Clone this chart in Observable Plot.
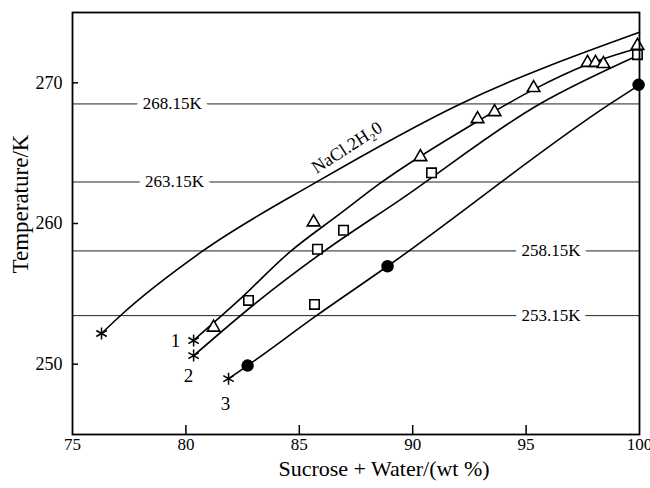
<!DOCTYPE html>
<html>
<head>
<meta charset="utf-8">
<script src="https://cdn.jsdelivr.net/npm/d3@7"></script>
<script src="https://cdn.jsdelivr.net/npm/@observablehq/plot@0.6"></script>
<style>
  html, body { margin: 0; padding: 0; background: white; }
</style>
</head>
<body>
<div id="chart"></div>
<script>
// ---- data ----
const xTicks = [75, 80, 85, 90, 95, 100];
const xInnerTicks = [80, 85, 90, 95];
const yTicks = [250, 260, 270];

const refValues = [268.5, 262.95, 258.05, 253.45];
const refLabels = ["268.15K", "263.15K", "258.15K", "253.15K"];
const refLabelX = [79.4, 79.5, 96.1, 96.1];

const naclX = [76.28, 77.12, 80.73, 85.75, 92.1, 100];
const naclY = [252.18, 253.46, 258.03, 262.94, 268.5, 273.6];
const line1X = [80.34, 82.3, 84.6, 86.8, 88.6, 92.9, 95.3, 97.7, 100];
const line1Y = [251.7, 254.5, 258.0, 260.7, 262.9, 267.3, 269.5, 271.3, 272.5];
const line2X = [80.34, 83.2, 86.07, 89.46, 95.6, 100];
const line2Y = [250.6, 254.5, 258.0, 261.7, 268.5, 272.0];
const line3X = [81.88, 82.72, 85.8, 88.89, 98.7, 100];
const line3Y = [248.97, 249.9, 253.5, 256.96, 268.5, 269.86];

const triX = [81.22, 85.63, 90.34, 92.86, 93.61, 95.33, 97.71, 98.06, 98.41, 99.91];
const triY = [252.61, 260.09, 264.73, 267.43, 267.93, 269.64, 271.43, 271.43, 271.35, 272.64];
const sqX = [82.76, 85.67, 85.8, 86.95, 90.83, 99.91];
const sqY = [254.53, 254.25, 258.17, 259.52, 263.6, 272.0];
const circX = [82.72, 88.89, 99.96];
const circY = [249.9, 256.96, 269.86];
const starX = [76.28, 80.34, 80.34, 81.88];
const starY = [252.18, 251.68, 250.61, 248.97];

const numLabels = ["1", "2", "3"];
const numX = [79.54, 80.12, 81.75];
const numY = [251.68, 249.19, 247.2];

const curveLabel = "NaCl.2H\u20820";
const curveLabelX = [87.1];
const curveLabelY = [265.4];

const xTitle = "Sucrose + Water/(wt %)";
const yTitle = "Temperature/K";

// ---- build tables ----
const zip = (xs, ys, extra = {}) => xs.map((x, i) => ({x, y: ys[i], ...extra}));
const lines = [
  ...zip(naclX, naclY, {s: "nacl"}),
  ...zip(line1X, line1Y, {s: "1"}),
  ...zip(line2X, line2Y, {s: "2"}),
  ...zip(line3X, line3Y, {s: "3"})
];
const refs = refValues.map((v, i) => ({y: v, x: refLabelX[i], label: refLabels[i]}));
const tri = zip(triX, triY);
const sq = zip(sqX, sqY);
const circ = zip(circX, circY);
const stars = zip(starX, starY);
const nums = numLabels.map((t, i) => ({x: numX[i], y: numY[i], t}));
const curveLab = [{x: curveLabelX[0], y: curveLabelY[0], t: curveLabel}];

const FONT = "'Liberation Serif', 'DejaVu Serif', serif";

const chart = Plot.plot({
  width: 650,
  height: 488,
  marginLeft: 72,
  marginRight: 11,
  marginTop: 12,
  marginBottom: 54,
  style: {fontFamily: FONT, fontSize: "17px", color: "black", background: "white"},
  x: {domain: [75, 100], axis: null, label: null},
  y: {domain: [245, 275], axis: null, label: null},
  marks: [
    // reference isotherms
    Plot.ruleY(refs, {y: "y", stroke: "#222", strokeWidth: 1}),
    Plot.text(refs, {x: "x", y: "y", text: "label", fill: "black", stroke: "white", strokeWidth: 14, fontSize: 17}),
    // curves
    Plot.line(lines, {x: "x", y: "y", z: "s", curve: "monotone-x", stroke: "black", strokeWidth: 1.6}),
    // markers
    Plot.dot(stars, {x: "x", y: "y", symbol: "asterisk", r: 5.7, stroke: "black", strokeWidth: 1.5}),
    Plot.dot(tri, {x: "x", y: "y", symbol: "triangle", r: 4.7, stroke: "black", fill: "white", strokeWidth: 1.6}),
    Plot.dot(sq, {x: "x", y: "y", symbol: "square", r: 5.3, stroke: "black", fill: "white", strokeWidth: 1.6}),
    Plot.dot(circ, {x: "x", y: "y", r: 5.5, fill: "black", stroke: "black"}),
    // labels
    Plot.text(nums, {x: "x", y: "y", text: "t", fontSize: 19}),
    Plot.text(curveLab, {x: "x", y: "y", text: "t", rotate: -33, fontSize: 18}),
    // axes
    Plot.axisY({ticks: yTicks, tickSize: 0, tickPadding: 10, fontSize: 18, label: null}),
    Plot.axisY({ticks: yTicks, tickSize: 6, dx: 6, tickFormat: () => "", label: null, strokeWidth: 1.5}),
    Plot.axisX({ticks: xTicks, tickSize: 0, tickPadding: 3, fontSize: 17, label: null}),
    Plot.axisX({ticks: xInnerTicks, tickSize: 9, dy: -9, tickFormat: () => "", label: null, strokeWidth: 1.5}),
    Plot.frame({stroke: "black", strokeWidth: 1.8}),
    // axis titles
    Plot.text([xTitle], {frameAnchor: "bottom", dy: 41, dx: 28, fontSize: 22}),
    Plot.text([yTitle], {frameAnchor: "left", rotate: -90, dx: -52, dy: 50, fontSize: 23})
  ]
});

document.getElementById("chart").appendChild(chart);
</script>
</body>
</html>
